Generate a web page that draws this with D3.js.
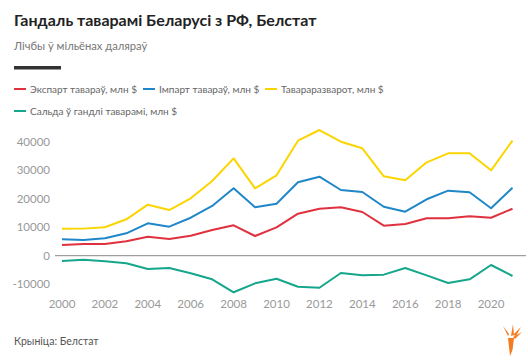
<!DOCTYPE html>
<html>
<head>
<meta charset="utf-8">
<script src="https://cdn.jsdelivr.net/npm/d3@7"></script>
<style>
  body { margin: 0; background: #fff; }
  svg text { font-family: Lato, "Noto Sans", sans-serif; }
</style>
</head>
<body>
<div id="chart"></div>
<script>
// years on the x axis
var years = d3.range(2000, 2022);

// series, mln $
var exportVals = [3750, 4100, 4100, 5050, 6670, 5860, 7020, 9020, 10670, 6910, 9960,
                  14740, 16490, 16980, 15330, 10530, 11120, 13120, 13120, 13820, 13330, 16490];
var importVals = [5750, 5500, 6100, 7850, 11370, 10180, 13330, 17440, 23650, 16980, 18250,
                  25750, 27720, 23050, 22350, 17190, 15440, 19790, 22810, 22250, 16630, 23860];
var turnoverVals = [9470, 9500, 10000, 12770, 17900, 16030, 20140, 26200, 34170, 23650, 28200,
                    40350, 44100, 40000, 37680, 27850, 26450, 32770, 35930, 35930, 29960, 40350];
var balanceVals = [-1860, -1400, -1980, -2680, -4670, -4320, -6180, -8280, -12840, -9690, -8070,
                   -10880, -11230, -6070, -6890, -6650, -4320, -6890, -9580, -8280, -3260, -7120];

var seriesNames = ["Экспарт тавараў, млн $", "Імпарт тавараў, млн $", "Тавараразварот, млн $", "Сальда ў гандлі таварамі, млн $"];
var seriesColors = ["#e0313f", "#1f87c8", "#fbd500", "#15a68c"];
var yTicks = [-10000, 0, 10000, 20000, 30000, 40000];
var xTicks = d3.range(2000, 2021, 2);

var width = 528, height = 362;

var svg = d3.select("#chart").append("svg")
    .attr("width", width)
    .attr("height", height);

// header
svg.append("text").attr("x", 14).attr("y", 26)
    .attr("font-size", 16).attr("font-weight", "bold").attr("fill", "#222")
    .text("Гандаль таварамі Беларусі з РФ, Белстат");
svg.append("text").attr("x", 14).attr("y", 50)
    .attr("font-size", 11.2).attr("fill", "#777")
    .text("Лічбы ў мільёнах даляраў");
svg.append("rect").attr("x", 14).attr("y", 66).attr("width", 47).attr("height", 3.5)
    .attr("fill", "#333");

// legend
var legendPos = [[14, 89], [143, 89], [265, 89], [14, 111]];
var leg = svg.selectAll("g.leg").data(seriesNames).enter().append("g")
    .attr("class", "leg")
    .attr("transform", function(d, i) { return "translate(" + legendPos[i][0] + "," + legendPos[i][1] + ")"; });
leg.append("line").attr("x1", 0).attr("x2", 12).attr("y1", 0).attr("y2", 0)
    .attr("stroke", function(d, i) { return seriesColors[i]; }).attr("stroke-width", 2);
leg.append("text").attr("x", 16).attr("y", 3.5)
    .attr("font-size", 10).attr("fill", "#666")
    .text(function(d) { return d; });

// scales
var x = d3.scaleLinear().domain([2000, 2021]).range([62, 512.5]);
var y = d3.scaleLinear().domain([0, 40000]).range([255.7, 141.7]);

// y tick labels
svg.selectAll("text.ytick").data(yTicks).enter().append("text")
    .attr("class", "ytick")
    .attr("x", 50).attr("y", function(d) { return y(d) + 4; })
    .attr("text-anchor", "end").attr("font-size", 11.5).attr("fill", "#999")
    .text(function(d) { return d; });

// x tick labels
svg.selectAll("text.xtick").data(xTicks).enter().append("text")
    .attr("class", "xtick")
    .attr("x", function(d) { return x(d); }).attr("y", 308)
    .attr("text-anchor", "middle").attr("font-size", 11.5).attr("fill", "#999")
    .text(function(d) { return d; });

// zero line
svg.append("line").attr("x1", 55).attr("x2", 526)
    .attr("y1", y(0)).attr("y2", y(0))
    .attr("stroke", "#888").attr("stroke-width", 1);

var line = d3.line()
    .x(function(d, i) { return x(years[i]); })
    .y(function(d) { return y(d); });

var allSeries = [exportVals, importVals, turnoverVals, balanceVals];
svg.selectAll("path.series").data(allSeries).enter().append("path")
    .attr("class", "series")
    .attr("d", line)
    .attr("fill", "none")
    .attr("stroke", function(d, i) { return seriesColors[i]; })
    .attr("stroke-width", 2)
    .attr("stroke-linejoin", "round");

// source
svg.append("text").attr("x", 14).attr("y", 345)
    .attr("font-size", 10.5).attr("fill", "#555")
    .text("Крыніца: Белстат");

// logo (torch)
var logo = svg.append("g").attr("transform", "translate(511,340)").attr("fill", "#f47b20");
logo.append("path").attr("d", "M-3,-2 L3,-2 L1.5,10 L-1,16 Z");
logo.append("path").attr("d", "M-3,-4 L-8,-14 L-2,-6 Z");
logo.append("path").attr("d", "M0,-4 L2,-16 L3,-5 Z");
logo.append("path").attr("d", "M2,-3 L11,-8 L4,-1 Z");
logo.append("path").attr("d", "M2,-5 L10,-13 L5,-4 Z");
</script>
</body>
</html>
